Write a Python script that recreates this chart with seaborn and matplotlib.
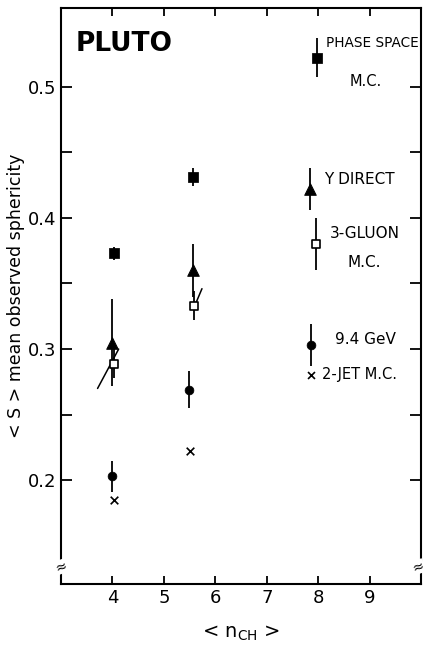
import numpy as np
import pandas as pd
import matplotlib
matplotlib.use("Agg")
import matplotlib.pyplot as plt
import seaborn as sns

# data
phase_x = [4.02, 5.57]
phase_y = [0.373, 0.431]
phase_err = [0.005, 0.007]

ydir_x = [4.0, 5.57]
ydir_y = [0.305, 0.360]
ydir_err = [0.033, 0.020]

gluon_x = [4.02, 5.59]
gluon_y = [0.289, 0.333]
gluon_err = [0.011, 0.011]

gev_x = [4.0, 5.49]
gev_y = [0.203, 0.269]
gev_err = [0.012, 0.014]

jet_x = [4.02, 5.5]
jet_y = [0.185, 0.222]

# short slope lines through the 3-gluon points
slope1_x = [3.71, 4.12]
slope1_y = [0.270, 0.300]
slope2_x = [5.60, 5.74]
slope2_y = [0.333, 0.346]

# legend symbols drawn inside the frame
key_x = [7.98, 7.85, 7.95, 7.87, 7.87]
key_y = [0.522, 0.422, 0.380, 0.303, 0.280]
key_err = [0.015, 0.016, 0.020, 0.016, 0.0]

sns.set_theme(style="ticks")
plt.rcParams['font.family'] = ['DejaVu Sans']
plt.rcParams['xtick.direction'] = 'in'
plt.rcParams['ytick.direction'] = 'in'
for key in ['text.color', 'axes.labelcolor', 'xtick.color', 'ytick.color', 'axes.edgecolor']:
    plt.rcParams[key] = 'black'

fig = plt.figure(figsize=(4.27, 6.5), dpi=100)
ax = fig.add_axes([0.143, 0.1015, 0.843, 0.8865])

k = dict(color='black', linestyle='none', elinewidth=1.3, capsize=0)

# phase space M.C. : filled squares
ax.errorbar(phase_x, phase_y, yerr=phase_err, **k)
sns.scatterplot(x=phase_x, y=phase_y, marker='s', s=45, color='black', edgecolor='black', ax=ax)
ax.errorbar(key_x[0], key_y[0], yerr=key_err[0], **k)
sns.scatterplot(x=[key_x[0]], y=[key_y[0]], marker='s', s=45, color='black', edgecolor='black', ax=ax)

# Y direct : filled triangles
ax.errorbar(ydir_x, ydir_y, yerr=ydir_err, **k)
sns.scatterplot(x=ydir_x, y=ydir_y, marker='^', s=70, color='black', edgecolor='black', ax=ax)
ax.errorbar(key_x[1], key_y[1], yerr=key_err[1], **k)
sns.scatterplot(x=[key_x[1]], y=[key_y[1]], marker='^', s=70, color='black', edgecolor='black', ax=ax)

# 3-gluon M.C. : open squares
ax.errorbar(gluon_x, gluon_y, yerr=gluon_err, **k)
sns.lineplot(x=slope1_x, y=slope1_y, color='black', lw=1.1, ax=ax)
sns.lineplot(x=slope2_x, y=slope2_y, color='black', lw=1.1, ax=ax)
sns.scatterplot(x=gluon_x, y=gluon_y, marker='s', s=35, color='white', edgecolor='black', linewidth=1.2, ax=ax, zorder=5)
ax.errorbar(key_x[2], key_y[2], yerr=key_err[2], **k)
sns.scatterplot(x=[key_x[2]], y=[key_y[2]], marker='s', s=30, color='white', edgecolor='black', linewidth=1.2, ax=ax, zorder=5)

# 9.4 GeV : filled circles
ax.errorbar(gev_x, gev_y, yerr=gev_err, **k)
sns.scatterplot(x=gev_x, y=gev_y, marker='o', s=40, color='black', edgecolor='black', ax=ax)
ax.errorbar(key_x[3], key_y[3], yerr=key_err[3], **k)
sns.scatterplot(x=[key_x[3]], y=[key_y[3]], marker='o', s=40, color='black', edgecolor='black', ax=ax)

# 2-jet M.C. : crosses
sns.scatterplot(x=jet_x, y=jet_y, marker='x', s=30, color='black', linewidth=1.2, ax=ax)
sns.scatterplot(x=[key_x[4]], y=[key_y[4]], marker='x', s=25, color='black', linewidth=1.2, ax=ax)

# key labels
ax.text(8.15, 0.533, "PHASE SPACE", fontsize=9.8, va='center', ha='left')
ax.text(8.92, 0.504, "M.C.", fontsize=10.5, va='center', ha='center')
ax.text(8.12, 0.429, "Υ DIRECT", fontsize=11, va='center', ha='left')
ax.text(8.22, 0.388, "3-GLUON", fontsize=11, va='center', ha='left')
ax.text(8.9, 0.366, "M.C.", fontsize=11, va='center', ha='center')
ax.text(8.32, 0.307, "9.4 GeV", fontsize=11, va='center', ha='left')
ax.text(8.08, 0.281, "2-JET M.C.", fontsize=10.5, va='center', ha='left')

ax.text(0.04, 0.96, "PLUTO", transform=ax.transAxes, fontsize=19, fontweight='bold',
        va='top', ha='left')

ax.set_xlim(3, 10)
ax.set_ylim(0.121, 0.56)
ax.set_xticks([4, 5, 6, 7, 8, 9])
ax.set_yticks([0.2, 0.25, 0.3, 0.35, 0.4, 0.45, 0.5])
ax.set_yticklabels(["0.2", "", "0.3", "", "0.4", "", "0.5"])
ax.tick_params(axis='both', which='major', labelsize=13, width=1.3, length=8,
               top=True, right=True, color='black')
ax.tick_params(axis='x', length=6)
for s in ax.spines.values():
    s.set_linewidth(1.5)
    s.set_color('black')

ax.set_xlabel("< n$_{\\rm CH}$ >", fontsize=14, labelpad=12)
ax.set_ylabel("< S > mean observed sphericity", fontsize=12.5, labelpad=2)

# axis break marks near the bottom
for xb in [0.0, 0.993]:
    ax.text(xb, 0.03, "≈", transform=ax.transAxes, fontsize=10, ha='center', va='center',
            rotation=20, bbox=dict(facecolor='white', edgecolor='none', pad=0))

fig.savefig("out.png", dpi=100)
